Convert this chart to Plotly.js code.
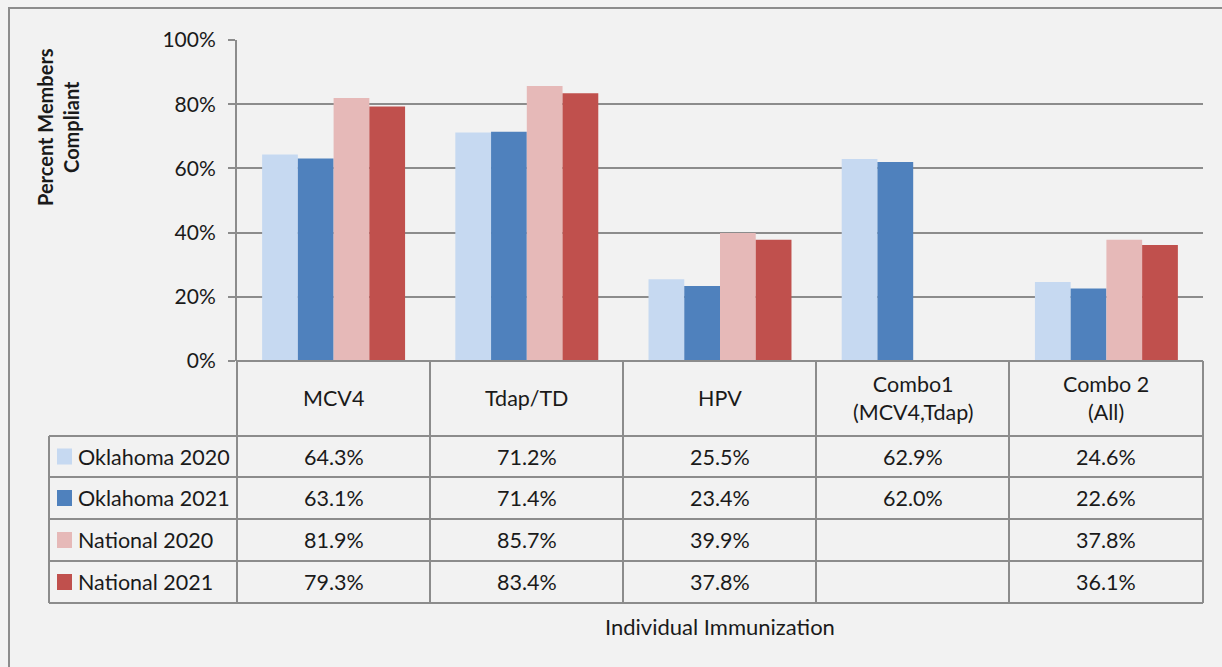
<!DOCTYPE html>
<html>
<head>
<meta charset="utf-8">
<script src="https://cdn.plot.ly/plotly-3.0.1.min.js"></script>
<style>
html,body{margin:0;padding:0;background:#f2f2f2;}
#chart{width:1222px;height:667px;}
</style>
</head>
<body>
<div id="chart"></div>
<script>
// ---- data ----
const categories = ['MCV4', 'Tdap/TD', 'HPV', 'Combo1<br>(MCV4,Tdap)', 'Combo 2<br>(All)'];
const seriesNames = ['Oklahoma 2020', 'Oklahoma 2021', 'National 2020', 'National 2021'];
const oklahoma2020 = [64.3, 71.2, 25.5, 62.9, 24.6];
const oklahoma2021 = [63.1, 71.4, 23.4, 62.0, 22.6];
const national2020 = [81.9, 85.7, 39.9, null, 37.8];
const national2021 = [79.3, 83.4, 37.8, null, 36.1];
const yTickVals = [0, 20, 40, 60, 80, 100];
const yTickText = ['0%', '20%', '40%', '60%', '80%', '100%'];
const yTitle = 'Percent Members<br>Compliant';
const xTitle = 'Individual Immunization';

const seriesValues = [oklahoma2020, oklahoma2021, national2020, national2021];
const seriesColors = ['#c6d9f1', '#4f81bd', '#e6b9b8', '#c0504d'];

// ---- geometry helpers (pixel -> paper) ----
const L = 237, R = 1203, T = 40, B = 361;
const W = R - L, H = B - T;
const px = x => (x - L) / W;
const py = y => (B - y) / H;

const FONT = 'Lato, "Open Sans", sans-serif';
const TXT = '#1a1a1a';
const LINE = '#8c8c8c';
const FS = 21.5;

const xIdx = categories.map((c, i) => i);

const traces = seriesNames.map((name, s) => ({
  type: 'bar',
  name: name,
  x: xIdx,
  y: seriesValues[s],
  marker: {color: seriesColors[s], line: {width: 0}},
  hoverinfo: 'skip'
}));

// table geometry
const colEdges = [237, 430, 623, 816, 1009, 1203];
const rowEdges = [436, 477, 519, 561, 603];
const shapes = [];
const annotations = [];

function hline(x0, x1, y) {
  shapes.push({type: 'line', xref: 'paper', yref: 'paper', x0: px(x0), x1: px(x1), y0: py(y), y1: py(y), line: {color: LINE, width: 2}});
}
function vline(x, y0, y1) {
  shapes.push({type: 'line', xref: 'paper', yref: 'paper', x0: px(x), x1: px(x), y0: py(y0), y1: py(y1), line: {color: LINE, width: 2}});
}

// outer border
shapes.push({type: 'rect', xref: 'paper', yref: 'paper', x0: px(9), x1: px(1260), y0: py(8), y1: py(720), line: {color: LINE, width: 2}, fillcolor: 'rgba(0,0,0,0)', layer: 'below'});

// table lines
hline(237, 1203, 361);
rowEdges.forEach(y => hline(49, 1203, y));
colEdges.forEach(x => vline(x, 361, 603));
vline(49, 436, 603);

// header text
categories.forEach((c, i) => {
  annotations.push({xref: 'paper', yref: 'paper', x: (i + 0.5) / categories.length, y: py(398),
    text: c, showarrow: false, xanchor: 'center', yanchor: 'middle',
    font: {family: FONT, size: FS, color: TXT}});
});

// rows
seriesNames.forEach((name, s) => {
  const yc = (rowEdges[s] + rowEdges[s + 1]) / 2;
  shapes.push({type: 'rect', xref: 'paper', yref: 'paper', x0: px(57), x1: px(72), y0: py(yc - 8), y1: py(yc + 8),
    line: {width: 0}, fillcolor: seriesColors[s]});
  annotations.push({xref: 'paper', yref: 'paper', x: px(76), y: py(yc), text: name, showarrow: false,
    xanchor: 'left', yanchor: 'middle', font: {family: FONT, size: FS, color: TXT}});
  seriesValues[s].forEach((v, i) => {
    if (v === null) return;
    annotations.push({xref: 'paper', yref: 'paper', x: (i + 0.5) / categories.length, y: py(yc),
      text: v.toFixed(1) + '%', showarrow: false, xanchor: 'center', yanchor: 'middle',
      font: {family: FONT, size: FS, color: TXT}});
  });
});

// axis titles
annotations.push({xref: 'paper', yref: 'paper', x: px(720), y: py(626), text: xTitle, showarrow: false,
  xanchor: 'center', yanchor: 'middle', font: {family: FONT, size: 22, color: TXT}});
annotations.push({xref: 'paper', yref: 'paper', x: px(58), y: py(127), text: yTitle, showarrow: false,
  textangle: -90, xanchor: 'center', yanchor: 'middle', font: {family: FONT, size: 20, color: TXT, weight: 'bold'}});

const layout = {
  width: 1222, height: 667,
  paper_bgcolor: '#f2f2f2', plot_bgcolor: '#f2f2f2',
  margin: {l: L, r: 1222 - R, t: T, b: 667 - B, pad: 0},
  barmode: 'group', bargap: 0.26, bargroupgap: 0,
  showlegend: false,
  xaxis: {range: [-0.5, categories.length - 0.5], showticklabels: false, showgrid: false, zeroline: false, ticks: '', fixedrange: true, showline: false},
  yaxis: {range: [0, 100], tickvals: yTickVals, ticktext: yTickText, showgrid: true, gridcolor: LINE, gridwidth: 2,
    zeroline: false, showline: true, linecolor: LINE, linewidth: 2, ticks: 'outside', ticklen: 7, tickwidth: 2, tickcolor: LINE,
    tickfont: {family: FONT, size: 21, color: TXT}, ticklabelstandoff: 8, fixedrange: true},
  shapes: shapes,
  annotations: annotations
};

Plotly.newPlot('chart', traces, layout, {displayModeBar: false, staticPlot: true});
</script>
</body>
</html>
